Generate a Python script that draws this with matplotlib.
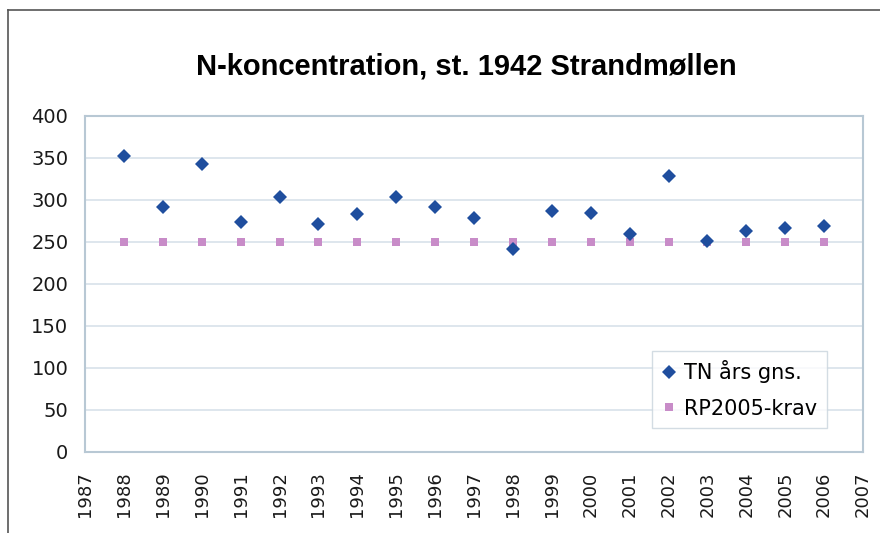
import matplotlib.pyplot as plt
from matplotlib.lines import Line2D

years = list(range(1988, 2007))
tn_aars_gns = [352, 292, 343, 274, 304, 272, 283, 304, 292, 279,
               242, 287, 284, 259, 329, 251, 263, 267, 269]
rp2005_krav = [250] * len(years)

x_ticks = list(range(1987, 2008))
y_ticks = list(range(0, 401, 50))

plt.rcParams['font.family'] = ['DejaVu Sans']

fig = plt.figure(figsize=(8.8, 5.33), dpi=100)
ax = fig.add_axes([0.0966, 0.152, 0.8841, 0.6304])

# outer frame (top and left edges only, as in the scan)
fig.add_artist(Line2D([8 / 880, 1], [1 - 10 / 533, 1 - 10 / 533],
                      transform=fig.transFigure, color='#555555', lw=1.2))
fig.add_artist(Line2D([8 / 880, 8 / 880], [0, 1 - 10 / 533],
                      transform=fig.transFigure, color='#555555', lw=1.2))

ax.plot(years, rp2005_krav, linestyle='none', marker='s', markersize=5.5,
        color='#c88cc8', markeredgewidth=0, label='RP2005-krav', zorder=3)
ax.plot(years, tn_aars_gns, linestyle='none', marker='D', markersize=7,
        color='#1f4e9e', markeredgewidth=0, label='TN års gns.', zorder=4)

ax.set_xlim(1987, 2007)
ax.set_ylim(0, 400)
ax.set_xticks(x_ticks)
ax.set_xticklabels([str(y) for y in x_ticks], rotation=90, fontsize=13,
                   color='#1a1a1a')
ax.set_yticks(y_ticks)
ax.set_yticklabels([str(v) for v in y_ticks], fontsize=14, color='#1a1a1a')
ax.tick_params(axis='both', length=0)
ax.tick_params(axis='y', pad=12)
ax.tick_params(axis='x', pad=14)

ax.grid(True, axis='y', color='#d8e2ea', linewidth=1.2)
ax.set_axisbelow(True)
for s in ax.spines.values():
    s.set_color('#b8c8d4')
    s.set_linewidth(1.5)

ax.set_title('N-koncentration, st. 1942 Strandmøllen', fontsize=21,
             fontweight='bold', family='Liberation Sans', pad=30, x=0.49)

handles, labels = ax.get_legend_handles_labels()
leg = ax.legend(handles[::-1], labels[::-1], loc='lower right',
                bbox_to_anchor=(0.9537, 0.071), fontsize=15, frameon=True,
                fancybox=False, edgecolor='#c8d4dc', labelspacing=0.75,
                borderpad=0.45, handlelength=0.7, handletextpad=0.4,
                borderaxespad=0)
leg.get_frame().set_linewidth(1.0)

fig.savefig('out.png', dpi=100)
